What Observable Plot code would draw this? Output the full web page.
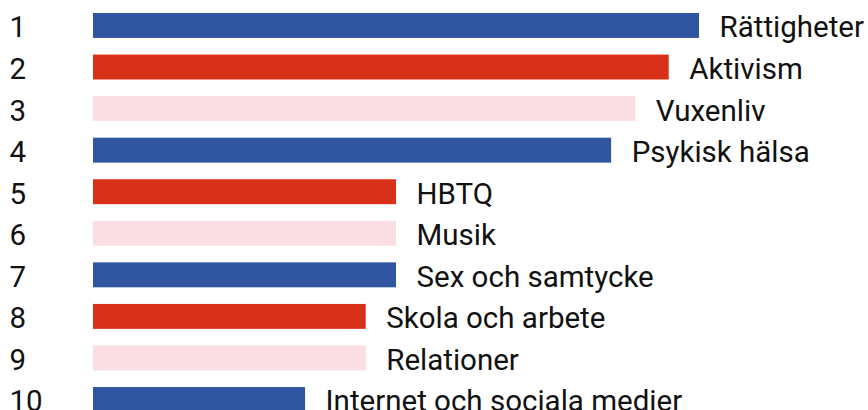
<!DOCTYPE html>
<html>
<head>
<meta charset="utf-8">
<script src="https://cdn.jsdelivr.net/npm/d3@7"></script>
<script src="https://cdn.jsdelivr.net/npm/@observablehq/plot@0.6"></script>
<style>
  html, body { margin: 0; padding: 0; background: #fff; }
  #chart svg { display: block; }
</style>
</head>
<body>
<div id="chart"></div>
<script>
const ranks = ["1", "2", "3", "4", "5", "6", "7", "8", "9", "10"];
const topics = ["Rättigheter", "Aktivism", "Vuxenliv", "Psykisk hälsa", "HBTQ", "Musik", "Sex och samtycke", "Skola och arbete", "Relationer", "Internet och sociala medier"];
const votes = [20, 19, 17.9, 17.1, 10, 10, 10, 9, 9, 7];
const palette = ["#3056a2", "#d93119", "#fbdee4"];

const data = ranks.map((r, i) => ({rank: r, topic: topics[i], value: votes[i], color: palette[i % 3]}));

const chart = Plot.plot({
  width: 868,
  height: 410,
  marginLeft: 0,
  marginRight: 0,
  marginTop: 0,
  marginBottom: 0,
  style: {fontFamily: "Roboto, sans-serif", background: "#fff"},
  x: {domain: [0, 20], range: [93, 699], axis: null},
  y: {domain: ranks, range: [4.7, 420.3], paddingInner: 0.4, paddingOuter: 0.2, round: false, axis: null},
  marks: [
    Plot.barX(data, {x: "value", y: "rank", fill: "color"}),
    Plot.text(data, {x: "value", y: "rank", text: "topic", textAnchor: "start", dx: 20, dy: 2, fontSize: 29.5, fill: "#111"}),
    Plot.text(data, {y: "rank", text: "rank", frameAnchor: "left", textAnchor: "start", dx: 9, dy: 2, fontSize: 29.5, fill: "#111"})
  ]
});
document.getElementById("chart").appendChild(chart);
</script>
</body>
</html>
